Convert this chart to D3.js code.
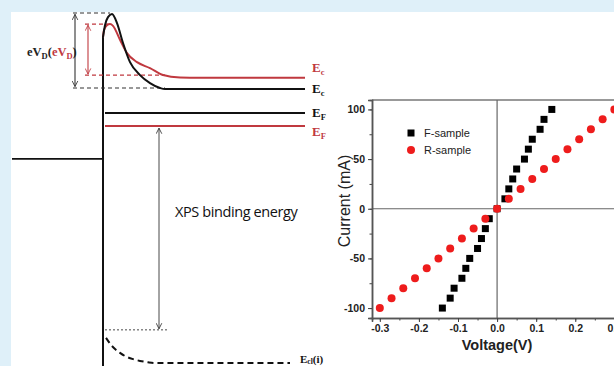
<!DOCTYPE html>
<html><head><meta charset="utf-8">
<script src="https://cdn.jsdelivr.net/npm/d3@7"></script>
<style>
html,body{margin:0;padding:0;background:#dff0f9;overflow:hidden}
svg{display:block}
</style></head><body>
<svg id="c" width="614" height="366"></svg>
<script>
// ---------- I-V data ----------
const fVoltage = [-0.14,-0.12,-0.11,-0.09,-0.08,-0.07,-0.05,-0.04,-0.03,-0.02,0,0.02,0.03,0.04,0.05,0.07,0.08,0.09,0.11,0.12,0.14];
const fCurrent = [-100,-90,-80,-70,-60,-50,-40,-30,-20,-10,0,10,20,30,40,50,60,70,80,90,100];
const rVoltage = [-0.30,-0.27,-0.24,-0.21,-0.18,-0.15,-0.12,-0.09,-0.06,-0.03,0,0.03,0.06,0.09,0.12,0.15,0.18,0.21,0.24,0.27,0.30];
const rCurrent = [-100,-90,-80,-70,-60,-50,-40,-30,-20,-10,0,10,20,30,40,50,60,70,80,90,100];
const xTicks = [-0.3,-0.2,-0.1,0.0,0.1,0.2,0.3];
const yTicks = [-100,-50,0,50,100];
const seriesNames = ["F-sample","R-sample"];

// ---------- band diagram (schematic units: distance from interface, energy level) ----------
const blackBandX = [0,2,5,9,14,20,27,37,47,57,62,77,202];
const blackBandE = [93.4,96.8,99.1,100,97.4,91.7,86.2,82.5,80.2,78.8,78.5,78.5,78.5];
const redBandX   = [0,1,4,7,10,17,24,34,47,60,77,97,202];
const redBandE   = [93.4,95.4,96.8,97.1,96.6,92.6,88.8,86.2,84.5,82.5,81.8,81.7,81.7];
const eclX = [3,8,12,17,22,30,37,45,52,187];
const eclE = [7.2,5.2,4.0,2.9,2.0,1.1,0.6,0.2,0.0,0.0];
const levels = {efBlack:71.6, efRed:67.9, metal:58.5, xps:9.5};

const svg = d3.select("#c");
svg.append("rect").attr("x",11).attr("y",12).attr("width",603).attr("height",354).attr("fill","#fff");

// ---------- left schematic ----------
const sx = d3.scaleLinear().domain([-91,202]).range([12,305]);
const sy = d3.scaleLinear().domain([0,100]).range([363,14]);
const defs = svg.append("defs");
function mk(id,color){
  const m = defs.append("marker").attr("id",id).attr("viewBox","0 0 10 10").attr("refX",9).attr("refY",5)
    .attr("markerWidth",7).attr("markerHeight",7).attr("orient","auto-start-reverse").attr("markerUnits","userSpaceOnUse");
  m.append("path").attr("d","M1,1 L9,5 L1,9").attr("fill","none").attr("stroke",color).attr("stroke-width",1.2);
}
mk("ab","#333"); mk("ar","#c0393f");
const L = svg.append("g");
const line = d3.line().x(d=>sx(d[0])).y(d=>sy(d[1]));
const curve = d3.line().x(d=>sx(d[0])).y(d=>sy(d[1])).curve(d3.curveMonotoneX);

// metal level and interface
L.append("path").attr("d",line([[-91,levels.metal],[0,levels.metal]])).attr("stroke","#111").attr("stroke-width",1.6).attr("fill","none");
L.append("path").attr("d",line([[0,93.4],[0,-2]])).attr("stroke","#111").attr("stroke-width",2).attr("fill","none");
// dashed guides
function dash(x0,x1,e,color,w,da){L.append("path").attr("d",line([[x0,e],[x1,e]])).attr("stroke",color).attr("stroke-width",w).attr("stroke-dasharray",da).attr("fill","none");}
dash(-30,7,100.3,"#333",1.1,"4,3");
dash(-30,62,78.8,"#333",1.1,"4,3");
dash(-18,5,97.1,"#c0393f",1.1,"4,3");
dash(-18,62,82.5,"#c0393f",1.1,"4,3");
dash(2,65,levels.xps,"#333",0.9,"2,2");
// double arrows
function arrow(x,e0,e1,color,id,w){L.append("path").attr("d",line([[x,e0],[x,e1]])).attr("stroke",color).attr("stroke-width",w).attr("fill","none")
  .attr("marker-start",`url(#${id})`).attr("marker-end",`url(#${id})`);}
arrow(-28,99.9,79.2,"#333","ab",1.1);
arrow(-15,96.8,82.8,"#c0393f","ar",1.1);
arrow(56,67.3,levels.xps+0.3,"#333","ab",0.9);
// bands
L.append("path").attr("d",curve(redBandX.map((x,i)=>[x,redBandE[i]]))).attr("stroke","#c0393f").attr("stroke-width",2).attr("fill","none");
L.append("path").attr("d",curve(blackBandX.map((x,i)=>[x,blackBandE[i]]))).attr("stroke","#111").attr("stroke-width",2).attr("fill","none");
// Fermi levels
L.append("path").attr("d",line([[2,levels.efBlack],[202,levels.efBlack]])).attr("stroke","#111").attr("stroke-width",2).attr("fill","none");
L.append("path").attr("d",line([[2,levels.efRed],[202,levels.efRed]])).attr("stroke","#c0393f").attr("stroke-width",2).attr("fill","none");
// core level
L.append("path").attr("d",curve(eclX.map((x,i)=>[x,eclE[i]]))).attr("stroke","#111").attr("stroke-width",2).attr("stroke-dasharray","6,4").attr("fill","none");

// labels
const serif = "'Liberation Serif','DejaVu Serif',serif";
function lab(x,y,main,sub,color){
  const t = L.append("text").attr("x",x).attr("y",y).attr("font-family",serif).attr("font-weight","bold").attr("font-size",13).attr("fill",color);
  t.append("tspan").text(main);
  t.append("tspan").attr("font-size",8.5).attr("dy",3).text(sub);
}
lab(312,72,"E","c","#c0393f");
lab(312,93,"E","c","#111");
lab(312,117,"E","F","#111");
lab(312,136,"E","F","#c0393f");
{
  const t = L.append("text").attr("x",27).attr("y",56).attr("font-family",serif).attr("font-weight","bold").attr("font-size",12.5).attr("fill","#222");
  t.append("tspan").text("eV");
  t.append("tspan").attr("font-size",8.5).attr("dy",3).text("D");
  t.append("tspan").attr("dy",-3).text("(");
  t.append("tspan").attr("fill","#c0393f").text("eV");
  t.append("tspan").attr("fill","#c0393f").attr("font-size",8.5).attr("dy",3).text("D");
  t.append("tspan").attr("dy",-3).text(")");
}
{
  const t = L.append("text").attr("x",300).attr("y",363).attr("font-family",serif).attr("font-weight","bold").attr("font-size",11).attr("fill","#111");
  t.append("tspan").text("E");
  t.append("tspan").attr("font-size",7.5).attr("dy",1).text("cl");
  t.append("tspan").attr("dy",-1).text("(i)");
}
L.append("text").attr("x",175).attr("y",217).attr("font-family","'Open Sans','Noto Sans',sans-serif").attr("font-size",14.5).attr("fill","#111").attr("letter-spacing",-0.4).text("XPS binding energy");

// ---------- right I-V plot ----------
const x = d3.scaleLinear().domain([-0.32,0.34]).range([372,630]);
const y = d3.scaleLinear().domain([-110,109.5]).range([318,100]);
const R = svg.append("g");
const arial = "'Liberation Sans',Arial,sans-serif";
// frame top & zero lines
R.append("line").attr("x1",372).attr("x2",630).attr("y1",y.range()[1]).attr("y2",y.range()[1]).attr("stroke","#777").attr("stroke-width",1.5);
R.append("line").attr("x1",x(0)).attr("x2",x(0)).attr("y1",100).attr("y2",318).attr("stroke","#666").attr("stroke-width",1.2);
R.append("line").attr("x1",372).attr("x2",630).attr("y1",y(0)).attr("y2",y(0)).attr("stroke","#666").attr("stroke-width",1.2);

const xMinor = d3.range(-0.3,0.35,0.05).map(v=>+v.toFixed(2));
const yMinor = d3.range(-100,101,25);
const xa = R.append("g").attr("transform","translate(0,318)")
  .call(d3.axisBottom(x).tickValues(xMinor).tickSize(2.5).tickFormat(""));
const xa2 = R.append("g").attr("transform","translate(0,318)")
  .call(d3.axisBottom(x).tickValues(xTicks).tickSize(4).tickPadding(3).tickFormat(d3.format(".1f")));
const ya = R.append("g").attr("transform","translate(372,0)")
  .call(d3.axisLeft(y).tickValues(yMinor).tickSize(2.5).tickFormat(""));
const ya2 = R.append("g").attr("transform","translate(372,0)")
  .call(d3.axisLeft(y).tickValues(yTicks).tickSize(4).tickPadding(3).tickFormat(d3.format("d")));
[xa,xa2,ya,ya2].forEach(g=>{
  g.selectAll(".domain").attr("stroke","#555").attr("stroke-width",1.5);
  g.selectAll(".tick line").attr("stroke","#444").attr("stroke-width",1);
  g.selectAll("text").attr("font-family",arial).attr("font-weight","bold").attr("font-size",10.5).attr("fill","#222");
});
xa2.selectAll("text").text(d=>d3.format(".1f")(d).replace("−","-"));
ya2.selectAll("text").text(d=>String(d));

R.append("text").attr("transform","translate(350,201) rotate(-90)").attr("text-anchor","middle")
  .attr("font-family",arial).attr("font-size",16).attr("fill","#222").text("Current (mA)");
R.append("text").attr("x",497).attr("y",350).attr("text-anchor","middle")
  .attr("font-family",arial).attr("font-weight","bold").attr("font-size",14.5).attr("fill","#222").text("Voltage(V)");

// series
R.append("g").selectAll("rect").data(fVoltage.map((v,i)=>[v,fCurrent[i]])).join("rect")
  .attr("x",d=>x(d[0])-3.5).attr("y",d=>y(d[1])-3.5).attr("width",7).attr("height",7).attr("fill","#000");
R.append("g").selectAll("circle").data(rVoltage.map((v,i)=>[v,rCurrent[i]])).join("circle")
  .attr("cx",d=>x(d[0])).attr("cy",d=>y(d[1])).attr("r",4).attr("fill","#ee1c1c");
// legend
R.append("rect").attr("x",407.5).attr("y",129.5).attr("width",7).attr("height",7).attr("fill","#000");
R.append("circle").attr("cx",411).attr("cy",150).attr("r",4).attr("fill","#ee1c1c");
R.append("text").attr("x",424).attr("y",137).attr("font-family",arial).attr("font-size",11).attr("fill","#222").text(seriesNames[0]);
R.append("text").attr("x",424).attr("y",154).attr("font-family",arial).attr("font-size",11).attr("fill","#222").text(seriesNames[1]);
</script></body></html>
